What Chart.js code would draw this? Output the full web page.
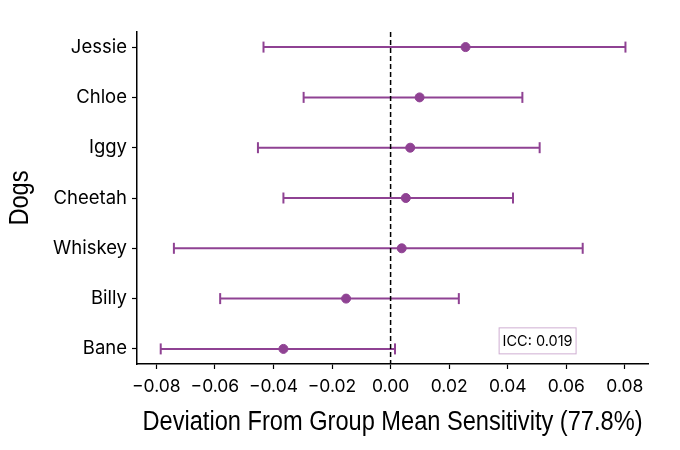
<!DOCTYPE html>
<html>
<head>
<meta charset="utf-8">
<script src="https://cdn.jsdelivr.net/npm/chart.js@4.4.1/dist/chart.umd.min.js"></script>
<style>
  html, body { margin: 0; padding: 0; background: #fff; }
  #wrap { width: 680px; height: 450px; }
</style>
</head>
<body>
<div id="wrap"><canvas id="dogChart" width="680" height="450"></canvas></div>
<script>
const dogs = ["Jessie", "Chloe", "Iggy", "Cheetah", "Whiskey", "Billy", "Bane"];
const estimate = [0.0256, 0.0099, 0.0067, 0.0052, 0.0038, -0.0152, -0.0366];
const lower = [-0.0434, -0.0297, -0.0453, -0.0366, -0.0740, -0.0582, -0.0785];
const upper = [0.0802, 0.0450, 0.0509, 0.0418, 0.0656, 0.0233, 0.0015];
const xTicks = [-0.08, -0.06, -0.04, -0.02, 0.00, 0.02, 0.04, 0.06, 0.08];
const xTitle = "Deviation From Group Mean Sensitivity (77.8%)";
const yTitle = "Dogs";
const iccText = "ICC: 0.019";

const purple = "#8f4293";
const plain = "'Liberation Sans', Arial, sans-serif";
const tickFont = "Inter, 'Liberation Sans', sans-serif";

const ctx = document.getElementById("dogChart");

// one little line per dog, caps drawn with rotated 'line' points
const barSets = dogs.map((d, i) => ({
  type: "line",
  data: [{x: lower[i], y: i}, {x: upper[i], y: i}],
  borderColor: purple,
  borderWidth: 2,
  pointStyle: "line",
  rotation: 90,
  pointRadius: 5.5,
  pointBorderColor: purple,
  pointBorderWidth: 2,
  pointHoverRadius: 5.5
}));

// axis titles in a squeezed sans, like a condensed face
const titles = {
  id: "titles",
  afterDraw(chart) {
    const c = chart.ctx;
    const a = chart.chartArea;
    c.save();
    c.font = "27px " + plain;
    c.fillStyle = "#000";
    c.textAlign = "center";
    c.textBaseline = "middle";
    const squeeze = 500 / c.measureText(xTitle).width;
    c.translate((a.left + a.right) / 2, 423);
    c.scale(squeeze, 1);
    c.fillText(xTitle, 0, 0);
    c.restore();

    c.save();
    c.font = "27px " + plain;
    c.fillStyle = "#000";
    c.textAlign = "center";
    c.textBaseline = "middle";
    c.translate(21, (a.top + a.bottom) / 2);
    c.rotate(-Math.PI / 2);
    c.scale(squeeze, 1);
    c.fillText(yTitle, 0, 0);
    c.restore();
  }
};

const iccBox = {
  id: "iccBox",
  afterDatasetsDraw(chart) {
    const c = chart.ctx;
    const x = chart.scales.x.getPixelForValue(0.0502);
    const y = chart.scales.y.getPixelForValue(5.84);
    c.save();
    c.font = "14.5px " + tickFont;
    const w = c.measureText(iccText).width + 7;
    const h = 26;
    c.fillStyle = "#fff";
    c.fillRect(x - w / 2, y - h / 2, w, h);
    c.strokeStyle = "#cfaed2";
    c.lineWidth = 1;
    c.strokeRect(x - w / 2, y - h / 2, w, h);
    c.fillStyle = "#000";
    c.textAlign = "center";
    c.textBaseline = "middle";
    c.fillText(iccText, x, y + 1);
    c.restore();
  }
};

new Chart(ctx, {
  type: "scatter",
  data: {
    datasets: [
      {
        type: "line",
        data: [{x: 0, y: -0.3}, {x: 0, y: 6.3}],
        borderColor: "#000",
        borderWidth: 1.5,
        borderDash: [5, 3],
        pointRadius: 0
      },
      ...barSets,
      {
        type: "scatter",
        data: estimate.map((v, i) => ({x: v, y: i})),
        backgroundColor: purple,
        borderColor: purple,
        pointRadius: 4.5,
        pointHoverRadius: 4.5
      }
    ]
  },
  options: {
    responsive: false,
    animation: false,
    layout: { padding: { top: 32, right: 32, left: 0, bottom: 0 } },
    plugins: {
      legend: { display: false },
      tooltip: { enabled: false }
    },
    scales: {
      x: {
        type: "linear",
        min: -0.0866,
        max: 0.0879,
        afterBuildTicks: (s) => { s.ticks = xTicks.map(v => ({value: v})); },
        afterFit: (s) => { s.height = 86; },
        grid: { drawOnChartArea: false, drawTicks: true, tickLength: 5, color: "#000", tickWidth: 1.2 },
        border: { color: "#000", width: 1.5 },
        ticks: {
          padding: 7,
          color: "#000",
          font: { family: tickFont, size: 17.5 },
          callback: (v) => (v < 0 ? "\u2212" : "") + Math.abs(v).toFixed(2)
        }
      },
      y: {
        type: "linear",
        min: -0.3,
        max: 6.3,
        reverse: true,
        afterBuildTicks: (s) => { s.ticks = dogs.map((d, i) => ({value: i})); },
        afterFit: (s) => { s.width = 137; },
        grid: { drawOnChartArea: false, drawTicks: true, tickLength: 5, color: "#000", tickWidth: 1.2 },
        border: { color: "#000", width: 1.5 },
        ticks: {
          padding: 5,
          color: "#000",
          font: { family: tickFont, size: 18.5 },
          callback: (v) => dogs[v]
        }
      }
    }
  },
  plugins: [iccBox, titles]
});
</script>
</body>
</html>
